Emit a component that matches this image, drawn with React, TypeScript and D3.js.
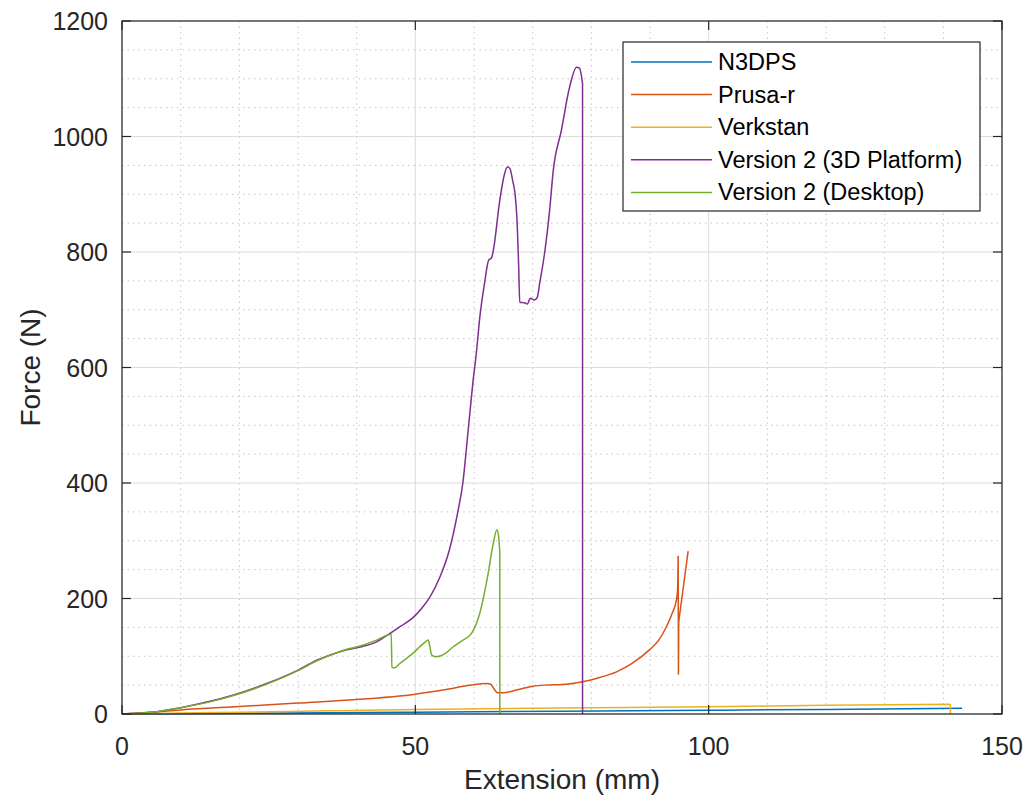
import React from "react";
import * as d3 from "d3";

const seriesNames = ["N3DPS", "Prusa-r", "Verkstan", "Version 2 (3D Platform)", "Version 2 (Desktop)"];
const seriesColors = ["#0072BD", "#D95319", "#EDB120", "#7E2F8E", "#77AC30"];

const n3dps: [number, number][] = [
  [0, 0], [10, 0.6], [20, 1.2], [35, 2.2], [50, 3.1], [75, 4.8], [100, 6.5], [120, 8], [143.2, 10],
];
const prusa: [number, number][] = [
  [0, 0], [5, 3], [10, 7], [20, 13], [30, 19], [40, 25], [47.3, 31], [55, 42], [62.1, 53], [62.8, 52],
  [63.5, 42], [64.0, 37], [65, 37], [67.8, 43], [70, 48], [72, 50], [75, 51], [78.5, 56], [81, 62],
  [84.3, 73], [87, 88], [89.9, 111], [91.5, 128], [92.8, 151], [93.8, 175], [94.5, 197], [94.7, 215],
  [94.8, 274], [94.85, 68], [94.9, 160], [96.5, 282],
];
const verkstan: [number, number][] = [
  [0, 0], [10, 1.8], [20, 3], [35, 5.5], [50, 8], [75, 10.5], [100, 12.5], [120, 15], [141.2, 17], [141.2, 0],
];
const v2platform: [number, number][] = [
  [0, 0], [5, 3], [10, 11], [15, 22], [20, 36], [25, 54], [30, 76], [33.2, 93], [36, 104], [38.3, 111],
  [41, 117], [43.4, 125], [45.6, 139], [47.5, 152], [49.5, 166], [51, 182], [52.4, 201], [54.1, 235],
  [55.8, 284], [57.2, 348], [58.1, 400], [58.9, 480], [59.8, 573], [60.4, 625], [61.0, 688], [61.8, 746],
  [62.5, 786], [63.0, 790], [63.3, 803], [64.4, 890], [65.2, 935], [65.7, 947], [66.1, 945], [66.6, 923],
  [67.0, 900], [67.3, 861], [67.6, 780], [67.8, 713], [68.6, 712], [69.1, 710], [69.6, 720], [70.3, 717],
  [70.8, 722], [71.2, 746], [72.1, 803], [72.9, 873], [73.5, 940], [74.9, 1011], [76.3, 1086],
  [77.5, 1120], [78.0, 1118], [78.5, 1092], [78.5, 0],
];
const v2desktop: [number, number][] = [
  [0, 0], [5, 3], [10, 11], [15, 21], [20, 35], [25, 53], [30, 75], [33.2, 92], [36, 104], [38.3, 112],
  [41, 119], [43.4, 128], [45.9, 138], [46.0, 81], [46.5, 80], [47.3, 87], [49.9, 108], [50.7, 116],
  [51.6, 124], [52.2, 128], [52.5, 115], [52.8, 102], [53.6, 99], [55, 104], [56.4, 116], [58, 127],
  [59.6, 140], [61.0, 175], [62.3, 237], [63.3, 296], [63.9, 319], [64.2, 307], [64.4, 280], [64.4, 0],
];
const allSeries = [n3dps, prusa, verkstan, v2platform, v2desktop];

const xTicks = [0, 50, 100, 150];
const yTicks = [0, 200, 400, 600, 800, 1000, 1200];
const xMinor = d3.range(0, 151, 10);
const yMinor = d3.range(0, 1201, 50);

const W = 1027, H = 798;
const L = 122, R = 1002, T = 21, B = 714;
const FONT = "'Liberation Sans', Arial, Helvetica, sans-serif";
const AX = "#262626";

export default function App() {
  const x = d3.scaleLinear().domain([0, 150]).range([L, R]);
  const y = d3.scaleLinear().domain([0, 1200]).range([B, T]);
  const smooth = d3.line<[number, number]>().x((d) => x(d[0])).y((d) => y(d[1])).curve(d3.curveMonotoneX);
  const straight = d3.line<[number, number]>().x((d) => x(d[0])).y((d) => y(d[1]));

  const buildPath = (pts: [number, number][]) => {
    const parts: string[] = [];
    let cur: [number, number][] = [pts[0]];
    for (let i = 1; i < pts.length; i++) {
      if (pts[i][0] - pts[i - 1][0] > 0.06) {
        cur.push(pts[i]);
      } else {
        if (cur.length > 1) parts.push(smooth(cur) || "");
        parts.push(straight([pts[i - 1], pts[i]]) || "");
        cur = [pts[i]];
      }
    }
    if (cur.length > 1) parts.push(smooth(cur) || "");
    return parts.join("");
  };

  const tl = 9;
  return (
    <svg width={W} height={H} style={{ position: "absolute", left: 0, top: 0, background: "#fff" }} fontFamily={FONT}>
      <rect x={0} y={0} width={W} height={H} fill="#fff" />
      {xMinor.filter((v) => v % 50 !== 0).map((v) => (
        <line key={"xm" + v} x1={x(v)} x2={x(v)} y1={T} y2={B} stroke="#c4c4c4" strokeWidth={1} strokeDasharray="1.5,4" />
      ))}
      {yMinor.filter((v) => v % 200 !== 0).map((v) => (
        <line key={"ym" + v} x1={L} x2={R} y1={y(v)} y2={y(v)} stroke="#c4c4c4" strokeWidth={1} strokeDasharray="1.5,4" />
      ))}
      {xTicks.map((v) => (
        <line key={"xg" + v} x1={x(v)} x2={x(v)} y1={T} y2={B} stroke="#dcdcdc" strokeWidth={1} />
      ))}
      {yTicks.map((v) => (
        <line key={"yg" + v} x1={L} x2={R} y1={y(v)} y2={y(v)} stroke="#dcdcdc" strokeWidth={1} />
      ))}
      {allSeries.map((s, i) => (
        <path key={"s" + i} d={buildPath(s)} fill="none" stroke={seriesColors[i]} strokeWidth={1.5} strokeLinejoin="round" />
      ))}
      <rect x={L} y={T} width={R - L} height={B - T} fill="none" stroke={AX} strokeWidth={1.2} />
      {xTicks.map((v) => (
        <g key={"xt" + v}>
          <line x1={x(v)} x2={x(v)} y1={B} y2={B - tl} stroke={AX} strokeWidth={1.2} />
          <line x1={x(v)} x2={x(v)} y1={T} y2={T + tl} stroke={AX} strokeWidth={1.2} />
          <text x={x(v)} y={755} textAnchor="middle" fontSize={25} fill={AX}>{v}</text>
        </g>
      ))}
      {yTicks.map((v) => (
        <g key={"yt" + v}>
          <line x1={L} x2={L + tl} y1={y(v)} y2={y(v)} stroke={AX} strokeWidth={1.2} />
          <line x1={R} x2={R - tl} y1={y(v)} y2={y(v)} stroke={AX} strokeWidth={1.2} />
          <text x={108} y={y(v) + 9} textAnchor="end" fontSize={25} fill={AX}>{v}</text>
        </g>
      ))}
      <text x={(L + R) / 2} y={789} textAnchor="middle" fontSize={28} fill={AX}>Extension (mm)</text>
      <text transform={`translate(40,${(T + B) / 2}) rotate(-90)`} textAnchor="middle" fontSize={28} fill={AX}>Force (N)</text>
      <rect x={623} y={42} width={357} height={169} fill="#fff" stroke={AX} strokeWidth={1.2} />
      {seriesNames.map((n, i) => {
        const cy = 62 + i * 32.6;
        return (
          <g key={"lg" + i}>
            <line x1={631} x2={712} y1={cy} y2={cy} stroke={seriesColors[i]} strokeWidth={1.5} />
            <text x={718} y={cy + 8} fontSize={23.5} fill="#000">{n}</text>
          </g>
        );
      })}
    </svg>
  );
}
